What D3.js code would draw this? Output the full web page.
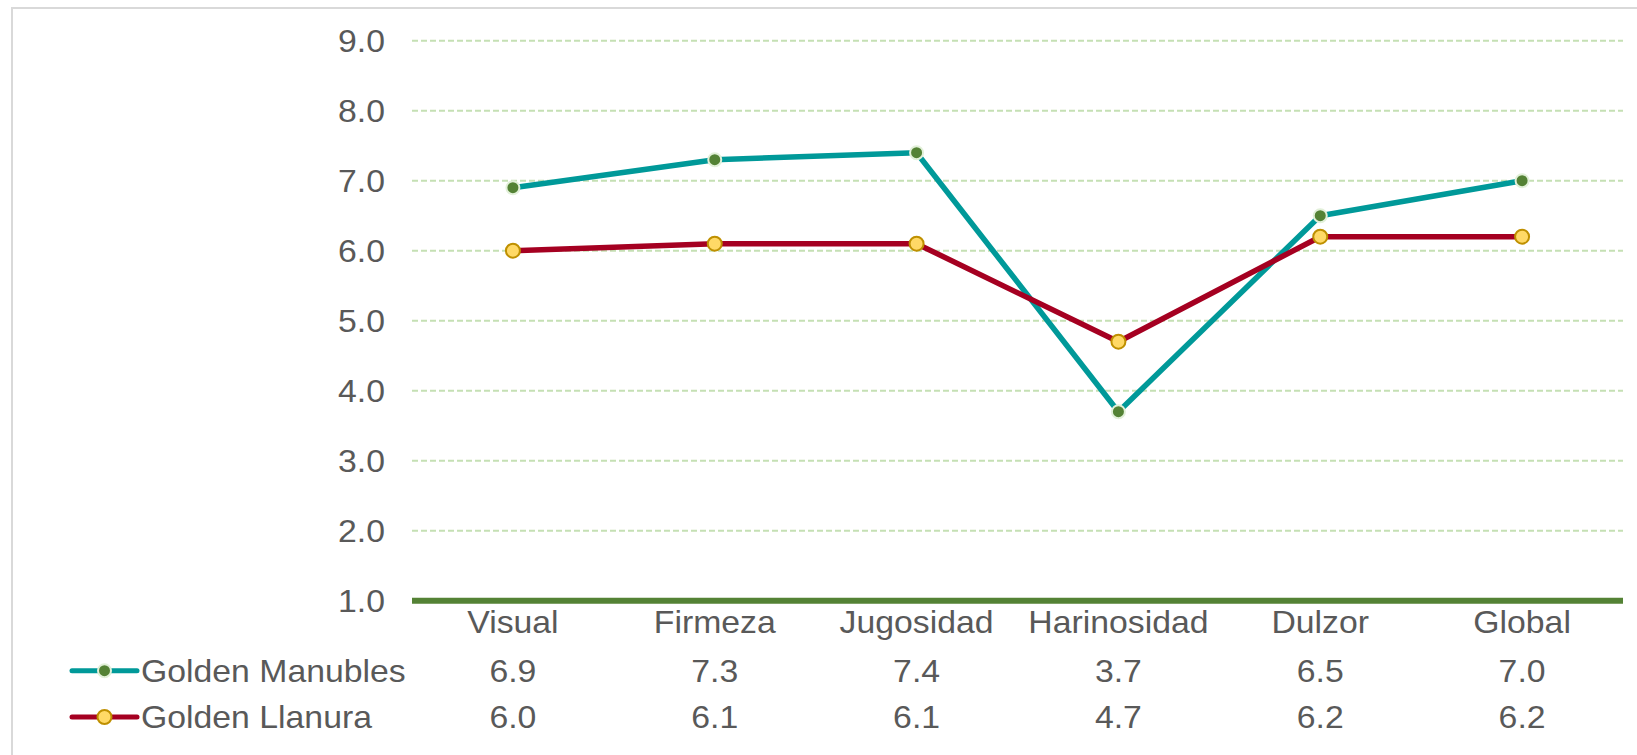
<!DOCTYPE html>
<html>
<head>
<meta charset="utf-8">
<script src="https://cdn.jsdelivr.net/npm/d3@7"></script>
<style>
  html, body { margin: 0; padding: 0; background: #fff; }
  svg { display: block; }
  text { font-family: "Liberation Sans", Arial, sans-serif; fill: #595959; }
</style>
</head>
<body>
<svg id="chart" width="1637" height="755"></svg>
<script>
const categories = ["Visual", "Firmeza", "Jugosidad", "Harinosidad", "Dulzor", "Global"];
const seriesNames = ["Golden Manubles", "Golden Llanura"];
const manubles = [6.9, 7.3, 7.4, 3.7, 6.5, 7.0];
const llanura = [6.0, 6.1, 6.1, 4.7, 6.2, 6.2];
const yTicks = [1, 2, 3, 4, 5, 6, 7, 8, 9];

(function () {
const series = [
  { name: seriesNames[0], values: manubles, line: "#009999", fill: "#548235", stroke: "#E2F0D9", r: 6.5 },
  { name: seriesNames[1], values: llanura, line: "#A50021", fill: "#FFD966", stroke: "#BF9000", r: 7 }
];

const FS = 31, SX = 1.09;
const svg = d3.select("#chart");
const pLeft = 412, pRight = 1623, pTop = 40.7, pBottom = 600.7;

// outer border (chart area)
svg.append("path")
  .attr("d", "M12,760 L12,8 L1640,8")
  .attr("fill", "none").attr("stroke", "#D9D9D9").attr("stroke-width", 2);

const x = d3.scaleBand().domain(categories).range([pLeft, pRight]).paddingInner(0).paddingOuter(0);
const y = d3.scaleLinear().domain([1, 9]).range([pBottom, pTop]);
const cx = c => x(c) + x.bandwidth() / 2;

function label(g, tx, ty, anchor, str, dy) {
  g.append("text")
    .attr("transform", `translate(${tx},${ty}) scale(${SX},1)`)
    .attr("text-anchor", anchor).attr("font-size", FS)
    .attr("dy", dy || 0)
    .text(str);
}

// gridlines
svg.append("g").selectAll("line").data(yTicks.filter(t => t > 1)).join("line")
  .attr("x1", pLeft).attr("x2", pRight)
  .attr("y1", d => y(d)).attr("y2", d => y(d))
  .attr("stroke", "#C5E0B4").attr("stroke-width", 2)
  .attr("stroke-dasharray", "6,3");

// y axis labels
const fmt = d3.format(".1f");
const yg = svg.append("g");
yTicks.forEach(t => label(yg, 385, y(t), "end", fmt(t), "0.36em"));

// x axis line
svg.append("line").attr("x1", pLeft).attr("x2", pRight)
  .attr("y1", y(1)).attr("y2", y(1))
  .attr("stroke", "#548235").attr("stroke-width", 6);

// category labels
const xg = svg.append("g");
categories.forEach(c => label(xg, cx(c), 633, "middle", c));

// lines
const line = d3.line().x((d, i) => cx(categories[i])).y(d => y(d));
series.forEach(s => {
  svg.append("path").datum(s.values)
    .attr("d", line).attr("fill", "none")
    .attr("stroke", s.line).attr("stroke-width", 5.5)
    .attr("stroke-linejoin", "round");
});
series.forEach(s => {
  svg.append("g").selectAll("circle").data(s.values).join("circle")
    .attr("cx", (d, i) => cx(categories[i]))
    .attr("cy", d => y(d))
    .attr("r", s.r)
    .attr("fill", s.fill).attr("stroke", s.stroke).attr("stroke-width", 2);
});

// data table
const rowY = [681.7, 728];
series.forEach((s, k) => {
  const ly = rowY[k] - 11;
  svg.append("line").attr("x1", 72).attr("x2", 137).attr("y1", ly).attr("y2", ly)
    .attr("stroke", s.line).attr("stroke-width", 5).attr("stroke-linecap", "round");
  svg.append("circle").attr("cx", 104.5).attr("cy", ly).attr("r", s.r)
    .attr("fill", s.fill).attr("stroke", s.stroke).attr("stroke-width", 2);
  const tg = svg.append("g");
  label(tg, 141, rowY[k], "start", s.name);
  s.values.forEach((v, i) => label(tg, cx(categories[i]), rowY[k], "middle", fmt(v)));
});
})();
</script>
</body>
</html>
